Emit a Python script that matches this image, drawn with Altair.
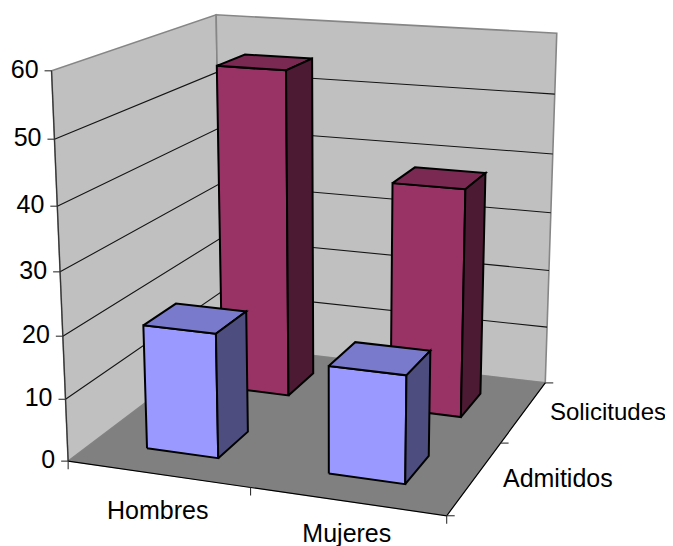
import numpy as np
import pandas as pd
import altair as alt

# --- chart values -------------------------------------------------------
categories = ["Hombres", "Mujeres"]
series = ["Admitidos", "Solicitudes"]
admitidos = [20, 17]
solicitudes = [55, 38]
value_ticks = [0, 10, 20, 30, 40, 50, 60]
VMAX = 60

# --- colours / layout ---------------------------------------------------
FRONT = {"Admitidos": "#9999FF", "Solicitudes": "#993366"}
TOP = {"Admitidos": "#7A7ACC", "Solicitudes": "#7A2952"}
SIDE = {"Admitidos": "#4D4D80", "Solicitudes": "#4D1A33"}
FONT = "Liberation Sans"
FS = 25
W, H = 657, 538

# 3D frame: (x, depth, value fraction) -> picture position, as perspective fit
world = [(0, 0, 0), (1, 0, 0), (1, 1, 0), (0, 1, 0), (0, 0, 1), (0, 1, 1), (1, 1, 1), (0, 0, 0.5), (1, 1, 0.5)]
image = [(68, 461), (446.5, 515.5), (546, 383), (222, 344.5), (52, 70), (216, 15), (557, 33), (60, 273), (550, 213)]
A, b = [], []
for (X, Z, Y), (u, v) in zip(world, image):
    A.append([X, Z, Y, 1, 0, 0, 0, 0, -u * X, -u * Z, -u * Y]); b.append(u)
    A.append([0, 0, 0, 0, X, Z, Y, 1, -v * X, -v * Z, -v * Y]); b.append(v)
P = np.append(np.linalg.lstsq(np.array(A, float), np.array(b, float), rcond=None)[0], 1).reshape(3, 4)


def proj(x, z, val):
    p = P @ np.array([x, z, val / VMAX, 1.0])
    return p[0] / p[2], p[1] / p[2]


def table(shapes):
    rows = []
    for n, (pts, fill, stroke, sw) in enumerate(shapes):
        for i, (x, y) in enumerate(pts):
            rows.append(dict(shape=n, i=i, x=x, y=y, fill=fill, stroke=stroke, sw=sw))
    return pd.DataFrame(rows)


xs = alt.X("x:Q", axis=None, scale=alt.Scale(domain=[8, 8 + W], range=[0, W], nice=False, zero=False))
ys = alt.Y("y:Q", axis=None, scale=alt.Scale(domain=[8, 8 + H], range=[0, H], nice=False, zero=False))


def polys(shapes):
    return alt.Chart(table(shapes)).mark_line(clip=False, strokeJoin="miter", interpolate="linear").encode(
        x=xs, y=ys, detail="shape:N", order="i:Q",
        fill=alt.Fill("fill:N", scale=None, legend=None),
        stroke=alt.Stroke("stroke:N", scale=None, legend=None),
        strokeWidth=alt.StrokeWidth("sw:Q", scale=None, legend=None),
    )


def lines(shapes):
    return alt.Chart(table(shapes)).mark_line(clip=False).encode(
        x=xs, y=ys, detail="shape:N", order="i:Q",
        stroke=alt.Stroke("stroke:N", scale=None, legend=None),
        strokeWidth=alt.StrokeWidth("sw:Q", scale=None, legend=None),
    )


def closed(*pts):
    return list(pts) + [pts[0]]


EDGE = "#868686"
back = closed(proj(0, 1, 0), proj(1, 1, 0), proj(1, 1, VMAX), proj(0, 1, VMAX))
left = closed(proj(0, 0, 0), proj(0, 1, 0), proj(0, 1, VMAX), proj(0, 0, VMAX))
walls = polys([(left, "#C0C0C0", EDGE, 1.6), (back, "#C0C0C0", EDGE, 1.6)])
floor_ = polys([(closed(proj(0, 0, 0), proj(1, 0, 0), proj(1, 1, 0), proj(0, 1, 0)), "#808080", "#808080", 0.5)])

grid = lines([([proj(0, 0, v), proj(0, 1, v), proj(1, 1, v)], "none", "#141414", 1.1) for v in value_ticks[1:-1]])

axis_shapes = [
    ([proj(0, 0, VMAX), proj(0, 0, 0)], "none", "#333333", 1.2),
    ([proj(0, 0, 0), proj(1, 0, 0), proj(1, 1, 0)], "none", "#000000", 1.2),
]
for v in value_ticks:
    x, y = proj(0, 0, v)
    axis_shapes.append(([(x - 7, y), (x, y)], "none", "#333333", 1.1))
for t in [0, 0.5, 1]:
    x, y = proj(t, 0, 0)
    axis_shapes.append(([(x, y), (x, y + 8)], "none", "#333333", 1.1))
for t in [0, 0.5, 1]:
    x, y = proj(1, t, 0)
    axis_shapes.append(([(x, y), (x + 8, y)], "none", "#333333", 1.1))
axes = lines(axis_shapes)

# bars, back row first so that the nearer ones cover them
bars = []
rows = [(1, "Solicitudes", solicitudes), (0, "Admitidos", admitidos)]
for zi, name, vals in rows:
    z0, z1 = zi * 0.5 + 0.15, zi * 0.5 + 0.35
    for ci, val in enumerate(vals):
        x0, x1 = ci * 0.5 + 0.15, ci * 0.5 + 0.35
        bars.append((closed(proj(x0, z0, 0), proj(x1, z0, 0), proj(x1, z0, val), proj(x0, z0, val)), FRONT[name], "#000000", 2))
        bars.append((closed(proj(x0, z0, val), proj(x1, z0, val), proj(x1, z1, val), proj(x0, z1, val)), TOP[name], "#000000", 2))
        bars.append((closed(proj(x1, z0, 0), proj(x1, z1, 0), proj(x1, z1, val), proj(x1, z0, val)), SIDE[name], "#000000", 2))
bar_layer = polys(bars)

# text
label_rows = []
for v in value_ticks:
    x, y = proj(0, 0, v)
    label_rows.append(dict(x=x - 13, y=y - 1, t=str(v), align="right", fs=FS))
for i, c in enumerate(categories):
    x, y = proj(i * 0.5 + 0.25, 0, 0)
    label_rows.append(dict(x=x, y=y + (37 if i == 0 else 33), t=c, align="center", fs=FS))
for i, s in enumerate(series):
    x, y = proj(1, i * 0.5 + 0.25, 0)
    label_rows.append(dict(x=x + 28, y=y + 1, t=s, align="left", fs=FS))
ldf = pd.DataFrame(label_rows)
# the last label has only the room up to the chart's right edge
ldf.loc[ldf["t"] == series[1], "x"] -= 2
ldf.loc[ldf["t"] == series[1], "fs"] = 24


def text_layer(al):
    return alt.Chart(ldf[ldf["align"] == al]).mark_text(
        font=FONT, align=al, baseline="middle", color="#000000", clip=False
    ).encode(x=xs, y=ys, text="t:N", size=alt.Size("fs:Q", scale=None, legend=None))


chart = alt.layer(
    walls, grid, floor_, axes, bar_layer,
    text_layer("right"), text_layer("center"), text_layer("left"),
).properties(
    width=W, height=H, padding=0, autosize=alt.AutoSizeParams(type="none"),
    background="white",
).configure_view(stroke=None)

chart.save("out.html", embed_options={"renderer": "svg", "actions": False})
